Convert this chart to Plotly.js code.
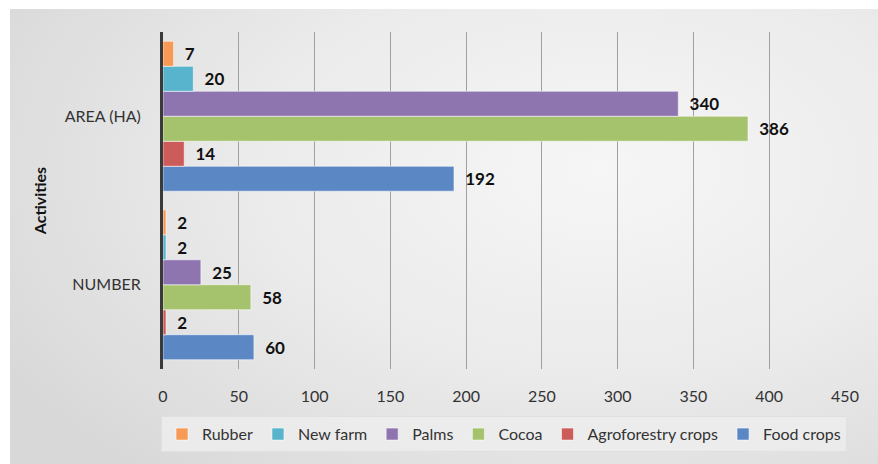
<!DOCTYPE html>
<html><head><meta charset="utf-8">
<script src="https://cdn.plot.ly/plotly-3.0.1.min.js"></script>
<style>
html,body{margin:0;padding:0;background:#fff;}
#wrap{position:relative;width:878px;height:464px;overflow:hidden;}
#bg{position:absolute;left:10px;top:9px;width:868px;height:455px;
background:radial-gradient(ellipse 80% 90% at 68% 35%, #f6f6f6 0%, #ebebeb 50%, #d8d8d8 100%);}
#chart{position:absolute;left:0;top:0;width:878px;height:464px;}
</style></head>
<body><div id="wrap"><div id="bg"></div><div id="chart"></div></div>
<script>
const categories = ['NUMBER', 'AREA (HA)'];
const seriesNames = ['Food crops', 'Agroforestry crops', 'Cocoa', 'Palms', 'New farm', 'Rubber'];
const foodCrops = [60, 192];
const agroforestryCrops = [2, 14];
const cocoa = [58, 386];
const palms = [25, 340];
const newFarm = [2, 20];
const rubber = [2, 7];
const xTicks = [0, 50, 100, 150, 200, 250, 300, 350, 400, 450];

const seriesValues = [foodCrops, agroforestryCrops, cocoa, palms, newFarm, rubber];
const colors = ['#5b87c5', '#cb5c5a', '#a5c26c', '#8e75b0', '#58b3cc', '#f79a55'];
const FONT = 'Lato, "Open Sans", sans-serif';

const traces = seriesNames.map((name, i) => ({
  type: 'bar', orientation: 'h', name: name,
  y: categories, x: seriesValues[i],
  marker: {color: colors[i], line: {color: 'rgba(255,255,255,0.55)', width: 1}},
  text: seriesValues[i].map(v => '\u00a0\u00a0' + v),
  textposition: 'outside', cliponaxis: false,
  textfont: {family: FONT, size: 17, color: '#111', weight: 'bold'},
  hoverinfo: 'x+name'
}));

const layout = {
  width: 878, height: 464,
  paper_bgcolor: 'rgba(0,0,0,0)', plot_bgcolor: 'rgba(0,0,0,0)',
  margin: {l: 163, r: 33, t: 32, b: 92},
  barmode: 'group', bargap: 0.11, bargroupgap: 0,
  font: {family: FONT, size: 16, color: '#333'},
  showlegend: true,
  legend: {orientation: 'h', x: 0.5, xanchor: 'center', y: -0.14, yanchor: 'top',
    traceorder: 'reversed', bgcolor: 'rgba(236,236,236,0.9)', bordercolor: '#e0e0e0', borderwidth: 1,
    font: {family: FONT, size: 16, color: '#333'}, itemwidth: 30},
  xaxis: {range: [0, 450], tickvals: xTicks, ticktext: xTicks.map(String),
    showgrid: true, gridcolor: '#a0a0a0', gridwidth: 1, zeroline: false,
    showline: false, ticks: 'outside', ticklen: 13, tickcolor: 'rgba(0,0,0,0)',
    tickfont: {family: FONT, size: 16, color: '#333'}, fixedrange: true},
  yaxis: {type: 'category', categoryorder: 'array', categoryarray: categories,
    range: [-0.5, 1.5], showgrid: false, zeroline: false,
    showline: true, linecolor: '#3a3a3a', linewidth: 3,
    ticks: 'outside', ticklen: 16, tickcolor: 'rgba(0,0,0,0)',
    tickfont: {family: FONT, size: 16, color: '#333'},
    title: {text: 'Activities', font: {family: FONT, size: 16, color: '#111', weight: 'bold'}, standoff: 15},
    fixedrange: true}
};
Plotly.newPlot('chart', traces, layout, {displayModeBar: false, staticPlot: true});
</script></body></html>
